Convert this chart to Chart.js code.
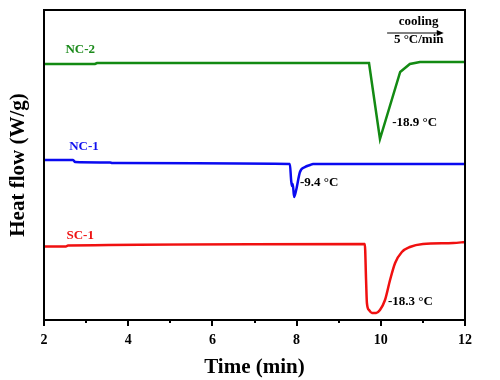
<!DOCTYPE html>
<html>
<head>
<meta charset="utf-8">
<script src="https://cdn.jsdelivr.net/npm/chart.js@4"></script>
<style>
  html, body { margin: 0; padding: 0; background: #fff; }
  #wrap { width: 500px; height: 380px; }
</style>
</head>
<body>
<div id="wrap"><canvas id="c" width="500" height="380"></canvas></div>
<script>
// ─── Data (time in min, heat flow in arbitrary offset units) ──────
const nc2Time = [2.00, 3.21, 3.26, 9.72, 9.98, 10.46, 10.69, 10.93, 12.00];
const nc2Flow = [256, 256, 257, 257, 181, 248, 256, 258, 258];

const nc1Time = [2.00, 2.69, 2.74, 3.57, 3.62, 7.84, 7.87, 7.89, 7.91, 7.94, 7.99, 8.08, 8.20, 8.32, 8.39, 12.00];
const nc1Flow = [160, 160, 158, 157.5, 157, 156, 140, 134, 136, 123, 130, 148, 153, 155, 156, 156];

const sc1Time = [2.00, 2.52, 2.57, 9.62, 9.65, 9.67, 9.72, 9.79, 9.89, 9.98, 10.10, 10.22, 10.34, 10.50, 10.69, 11.00, 11.72, 12.00];
const sc1Flow = [73.5, 73.5, 74.5, 76, 40, 17, 10, 7, 7, 10, 20, 40, 57, 68, 73, 76, 77, 78];

const xTicks = [2, 3, 4, 5, 6, 7, 8, 9, 10, 11, 12];

const SERIF = "'Liberation Serif', 'Times New Roman', serif";

function toPoints(xs, ys) {
    return xs.map((x, i) => ({ x, y: ys[i] }));
}

// text labels placed in data space
const notes = [
    { text: 'NC-2', t: 2.86, v: 270, color: '#1b8a1b', align: 'center' },
    { text: 'NC-1', t: 2.95, v: 173, color: '#1010ee', align: 'center' },
    { text: 'SC-1', t: 2.86, v: 84, color: '#ee1111', align: 'center' },
    { text: '-18.9 °C', t: 10.27, v: 197, color: '#000', align: 'left' },
    { text: '-9.4 °C', t: 8.08, v: 137, color: '#000', align: 'left' },
    { text: '-18.3 °C', t: 10.17, v: 18, color: '#000', align: 'left' },
    { text: 'cooling', t: 10.90, v: 298, color: '#000', align: 'center' },
    { text: '5 °C/min', t: 10.90, v: 280, color: '#000', align: 'center' }
];

// ─── Frame, ticks and notes ──────────────────────────────
const decor = {
    id: 'decor',
    afterDraw(chart) {
        const { ctx, chartArea: a, scales: { x, y } } = chart;
        ctx.save();
        ctx.strokeStyle = '#000';
        ctx.lineWidth = 2;
        ctx.strokeRect(a.left, a.top, a.right - a.left, a.bottom - a.top);

        xTicks.forEach(t => {
            const px = Math.round(x.getPixelForValue(t));
            const len = t % 2 === 0 ? 6 : 3;
            ctx.beginPath();
            ctx.moveTo(px, a.bottom);
            ctx.lineTo(px, a.bottom + len);
            ctx.stroke();
        });

        ctx.textBaseline = 'middle';
        notes.forEach(n => {
            ctx.font = `bold 13px ${SERIF}`;
            ctx.fillStyle = n.color;
            ctx.textAlign = n.align;
            ctx.fillText(n.text, x.getPixelForValue(n.t), y.getPixelForValue(n.v));
        });

        // arrow under "cooling"
        const ax0 = x.getPixelForValue(10.15), ax1 = x.getPixelForValue(11.4);
        const ay = y.getPixelForValue(287);
        ctx.lineWidth = 1;
        ctx.beginPath();
        ctx.moveTo(ax0, ay);
        ctx.lineTo(ax1, ay);
        ctx.stroke();
        ctx.beginPath();
        ctx.moveTo(ax1 + 4, ay);
        ctx.lineTo(ax1 - 3, ay - 3);
        ctx.lineTo(ax1 - 3, ay + 3);
        ctx.closePath();
        ctx.fillStyle = '#000';
        ctx.fill();
        ctx.restore();
    }
};

const line = (data, color, smooth) => ({
    data,
    borderColor: color,
    borderWidth: 2.5,
    pointRadius: 0,
    fill: false,
    cubicInterpolationMode: smooth ? 'monotone' : 'default',
    tension: 0
});

new Chart(document.getElementById('c').getContext('2d'), {
    type: 'line',
    data: {
        datasets: [
            line(toPoints(nc2Time, nc2Flow), '#138a13', false),
            line(toPoints(nc1Time, nc1Flow), '#0a0af0', true),
            line(toPoints(sc1Time, sc1Flow), '#f01010', true)
        ]
    },
    options: {
        responsive: false,
        animation: false,
        events: [],
        layout: { padding: { top: 10, right: 35, bottom: 0, left: 0 } },
        plugins: { legend: { display: false }, tooltip: { enabled: false } },
        scales: {
            x: {
                type: 'linear',
                min: 2, max: 12,
                afterBuildTicks: s => { s.ticks = xTicks.map(v => ({ value: v })); },
                afterFit: s => { s.height = 60; },
                grid: { display: false },
                border: { display: false },
                ticks: {
                    padding: 4,
                    color: '#000',
                    maxRotation: 0,
                    autoSkip: false,
                    font: { size: 14, weight: 'bold', family: SERIF },
                    callback: v => v % 2 === 0 ? v : ''
                },
                title: {
                    display: true,
                    text: 'Time (min)',
                    color: '#000',
                    padding: { top: 0, bottom: 0 },
                    font: { size: 21, weight: 'bold', family: SERIF }
                }
            },
            y: {
                min: 0, max: 310,
                afterFit: s => { s.width = 44; },
                grid: { display: false },
                border: { display: false },
                ticks: { display: false },
                title: {
                    display: true,
                    text: 'Heat flow (W/g)',
                    color: '#000',
                    padding: { top: 6, bottom: 0 },
                    font: { size: 21, weight: 'bold', family: SERIF }
                }
            }
        }
    },
    plugins: [decor]
});
</script>
</body>
</html>
